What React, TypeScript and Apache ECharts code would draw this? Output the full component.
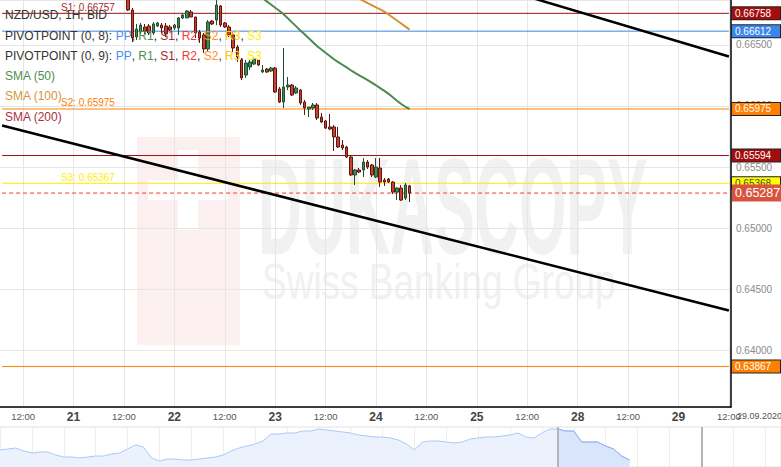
import { useEffect, useRef } from 'react';
import * as echarts from 'echarts';

// ---------- DATA ----------
const SYMBOL_TITLE = 'NZD/USD, 1H, BID';
const SLOT_COUNT = 174; // hourly slots, weekend skipped
const CURSOR_DATE = '29.09.2020';

// hourly candles starting at 2020-09-21 13:00
const CANDLE_START = '2020-09-21 13:00';
const candleOpen = [
  0.669, 0.66785, 0.66564, 0.66605, 0.66646, 0.66654, 0.66597, 0.66654, 0.66662, 0.66654,
  0.66646, 0.66638, 0.66638, 0.6672, 0.6672, 0.66769, 0.66728, 0.66605, 0.66581, 0.66466,
  0.66695, 0.66703, 0.66818, 0.66679, 0.66646, 0.66581, 0.66482, 0.66376, 0.66253, 0.66319,
  0.66343, 0.66376, 0.66278, 0.66302, 0.66286, 0.6631, 0.66139, 0.66032, 0.66155, 0.66171,
  0.66106, 0.6613, 0.66032, 0.65975, 0.65983, 0.66008, 0.65909, 0.65877, 0.65828, 0.65828,
  0.65746, 0.6568, 0.65664, 0.65582, 0.65435, 0.65476, 0.65476, 0.65541, 0.65517, 0.65418,
  0.65492, 0.65394, 0.65402, 0.65377, 0.65295, 0.65328, 0.65246, 0.65345,
];
const candleClose = [
  0.66785, 0.66556, 0.6663, 0.66662, 0.66613, 0.66597, 0.66671, 0.66679, 0.66638, 0.66589,
  0.66621, 0.66662, 0.6672, 0.66744, 0.66777, 0.66728, 0.66597, 0.66556, 0.66466, 0.66687,
  0.66671, 0.66826, 0.66662, 0.66646, 0.66581, 0.66474, 0.664, 0.66229, 0.66351, 0.6636,
  0.66384, 0.66335, 0.66294, 0.66278, 0.6631, 0.66114, 0.66032, 0.66155, 0.66171, 0.66089,
  0.66147, 0.66024, 0.65983, 0.65991, 0.66008, 0.65901, 0.65868, 0.65819, 0.65811, 0.65746,
  0.65664, 0.65656, 0.65582, 0.65435, 0.65476, 0.65459, 0.65541, 0.655, 0.65435, 0.655,
  0.65377, 0.65377, 0.65377, 0.65295, 0.65328, 0.6523, 0.65353, 0.65287,
];
const candleLow = [
  0.66777, 0.66523, 0.6654, 0.66589, 0.66589, 0.66581, 0.66581, 0.66646, 0.66597, 0.66564,
  0.66613, 0.66621, 0.66581, 0.66711, 0.6672, 0.66728, 0.66556, 0.66515, 0.66433, 0.66441,
  0.66662, 0.66662, 0.66646, 0.66638, 0.66564, 0.66441, 0.6636, 0.66212, 0.66229, 0.66294,
  0.66335, 0.66327, 0.6627, 0.6627, 0.66278, 0.66106, 0.66024, 0.65983, 0.6613, 0.66081,
  0.66098, 0.66008, 0.65926, 0.65909, 0.65967, 0.65885, 0.6586, 0.65811, 0.65803, 0.65631,
  0.65656, 0.65639, 0.65574, 0.65427, 0.65353, 0.65451, 0.65418, 0.65484, 0.65418, 0.6541,
  0.65336, 0.65345, 0.65369, 0.65279, 0.6523, 0.65222, 0.6523, 0.65214,
];
const candleHigh = [
  0.66932, 0.66802, 0.66671, 0.66679, 0.66671, 0.66671, 0.66687, 0.66687, 0.66679, 0.66679,
  0.66662, 0.66671, 0.66728, 0.66752, 0.66785, 0.66785, 0.66728, 0.66621, 0.66597, 0.66703,
  0.66703, 0.66892, 0.66826, 0.66687, 0.66662, 0.66605, 0.66499, 0.66392, 0.66376, 0.66376,
  0.66392, 0.66384, 0.66335, 0.6631, 0.66319, 0.66319, 0.66155, 0.66474, 0.66237, 0.6618,
  0.66163, 0.66139, 0.66049, 0.65991, 0.66024, 0.66024, 0.65942, 0.65885, 0.65934, 0.65844,
  0.65828, 0.65721, 0.65672, 0.65598, 0.65484, 0.65492, 0.65574, 0.65557, 0.65525, 0.65574,
  0.65574, 0.6541, 0.6541, 0.65385, 0.65336, 0.65353, 0.65369, 0.65353,
];

// SMA(50) from 2020-09-22 20:00, SMA(100) from 2020-09-23 19:00
const SMA50_START = '2020-09-22 20:00';
const sma50 = [
  0.66908, 0.66882, 0.66856, 0.6683, 0.66804, 0.66779, 0.66751, 0.66718, 0.66684, 0.66651,
  0.66618, 0.66586, 0.66554, 0.66522, 0.66489, 0.66462, 0.66435, 0.66409, 0.66382, 0.66359,
  0.66337, 0.66315, 0.66292, 0.6627, 0.66251, 0.66232, 0.66212, 0.66191, 0.66169, 0.66146,
  0.66123, 0.66099, 0.66071, 0.66043, 0.66016, 0.65993, 0.65975,
];
const SMA100_START = '2020-09-23 19:00';
const sma100 = [
  0.66896, 0.66878, 0.6686, 0.66842, 0.66825, 0.66807, 0.6679, 0.66772, 0.66748, 0.66724,
  0.66699, 0.66675, 0.66649, 0.66625,
];

// trend channel lines: [time, price] pairs
const trendLower = [['2020-09-18 07:00', 0.6584], ['2020-09-29 12:00', 0.64326]];
const trendUpper = [['2020-09-25 11:00', 0.66906], ['2020-09-29 12:00', 0.66404]];

// horizontal pivot levels
const levelValues = [0.66758, 0.66612, 0.65975, 0.65594, 0.65367, 0.63867];
const levelTags = ['0.66758', '0.66612', '0.65975', '0.65594', '0.65368', '0.63867'];
const levelNames = ['S1: 0.66757', '', 'S2: 0.65975', '', 'S3: 0.65367', ''];

// navigator overview
const NAV_SLOTS = 99;
const navValues = [
  0.66275, 0.6635, 0.66425, 0.662, 0.6605, 0.66125, 0.66125, 0.659, 0.6575, 0.6575,
  0.65675, 0.6575, 0.65825, 0.65825, 0.65975, 0.6605, 0.6635, 0.6665, 0.665, 0.65675,
  0.6545, 0.656, 0.656, 0.65525, 0.65525, 0.656, 0.65675, 0.6575, 0.659, 0.662,
  0.66425, 0.66575, 0.66725, 0.6695, 0.67475, 0.67475, 0.6755, 0.6755, 0.677, 0.677,
  0.6785, 0.67775, 0.677, 0.67625, 0.6755, 0.674, 0.67325, 0.6725, 0.6725, 0.67175,
  0.67025, 0.66725, 0.66275, 0.66875, 0.6695, 0.6695, 0.66875, 0.668, 0.66875, 0.671,
  0.67175, 0.6725, 0.6725, 0.67325, 0.674, 0.6755, 0.6725, 0.67175, 0.6755, 0.6785,
  0.6785, 0.677, 0.677, 0.66875, 0.66875, 0.66875, 0.66575, 0.6635, 0.65825, 0.65525,
];
const NAV_SELECT_FROM = 70;
const NAV_HANDLES = [70, 88];

// ---------- STYLES ----------
const FONT = 'Liberation Sans, Arial, sans-serif';
const levelStyles = [
  { line: '#9a1010', bg: '#a30d0d', fg: '#ffffff', left: '#a52a2a' },
  { line: '#3d85e0', bg: '#3b86ea', fg: '#ffffff', left: '' },
  { line: '#ff8000', bg: '#ff8000', fg: '#ffffff', left: '#ff8000' },
  { line: '#9a1010', bg: '#a30d0d', fg: '#ffffff', left: '' },
  { line: '#ffe800', bg: '#ffff00', fg: '#444444', left: '#ffee00' },
  { line: '#ff8000', bg: '#ff8000', fg: '#ffffff', left: '' },
];

function pad(n: number) {
  return n < 10 ? '0' + n : '' + n;
}
function buildSlots(): string[] {
  const out: string[] = [];
  let t = Date.UTC(2020, 8, 18, 7);
  while (out.length < SLOT_COUNT) {
    const d = new Date(t);
    const wd = d.getUTCDay();
    if (wd !== 0 && wd !== 6) {
      out.push(
        `${d.getUTCFullYear()}-${pad(d.getUTCMonth() + 1)}-${pad(d.getUTCDate())} ${pad(d.getUTCHours())}:00`
      );
    }
    t += 3600000;
  }
  return out;
}

export default function App() {
  const ref = useRef<HTMLDivElement>(null);
  useEffect(() => {
    if (!ref.current) return;
    const chart = echarts.init(ref.current, undefined, { renderer: 'svg' });
    const slots = buildSlots();
    const first = slots[0];
    const last = slots[slots.length - 1];
    const cStart = slots.indexOf(CANDLE_START);
    const candleData = candleOpen.map((o, i) => [
      slots[cStart + i],
      o,
      candleClose[i],
      candleLow[i],
      candleHigh[i],
    ]);
    const s50 = slots.indexOf(SMA50_START);
    const sma50Data = sma50.map((v, i) => [slots[s50 + i], v]);
    const s100 = slots.indexOf(SMA100_START);
    const sma100Data = sma100.map((v, i) => [slots[s100 + i], v]);
    const lastClose = candleClose[candleClose.length - 1];
    const navCats = Array.from({ length: NAV_SLOTS }, (_, i) => String(i));
    const navSel = navValues.map((v, i) => (i >= NAV_SELECT_FROM ? v : '-'));

    const isMajor = (idx: number) => {
      const h = slots[idx].slice(11, 13);
      return h === '00' || h === '12';
    };

    // horizontal level lines as plain line series
    const levelSeries: any[] = levelValues.map((v, i) => ({
      type: 'line',
      data: [
        [first, v],
        [last, v],
      ],
      showSymbol: false,
      silent: true,
      z: 1,
      lineStyle: { color: levelStyles[i].line, width: 1, type: 'solid' },
    }));
    levelSeries.push({
      type: 'line',
      data: [
        [first, lastClose],
        [last, lastClose],
      ],
      showSymbol: false,
      silent: true,
      z: 1,
      lineStyle: { color: '#f03c28', width: 1, type: [4, 3] },
    });

    // value tags on the price scale
    const tagData: any[] = levelValues.map((v, i) => ({
      yAxis: v,
      label: {
        show: true,
        position: 'end',
        distance: 1,
        formatter: levelTags[i],
        color: levelStyles[i].fg,
        backgroundColor: levelStyles[i].bg,
        borderColor: '#222',
        borderWidth: 1,
        padding: [1, 3, 1, 3],
        width: 42,
        fontSize: 10,
        fontFamily: FONT,
        opacity: 1,
      },
    }));
    tagData.push({
      yAxis: lastClose,
      label: {
        show: true,
        position: 'end',
        distance: 1,
        formatter: lastClose.toFixed(5),
        color: '#ffffff',
        backgroundColor: '#d9533f',
        padding: [2, 3, 2, 3],
        width: 44,
        fontSize: 12.5,
        fontFamily: FONT,
        opacity: 1,
      },
    });

    const option: any = {
      animation: false,
      backgroundColor: '#ffffff',
      grid: [
        { left: 0, right: 50, top: 0, bottom: 60, outerBoundsMode: 'none' },
        {
          left: 0,
          right: 0,
          top: 427,
          height: 40,
          show: true,
          borderColor: '#e2e2e2',
          borderWidth: 1,
          outerBoundsMode: 'none',
        },
      ],
      xAxis: [
        {
          type: 'category',
          gridIndex: 0,
          data: slots,
          boundaryGap: true,
          axisLine: { lineStyle: { color: '#000', width: 1.5 } },
          axisTick: { show: false },
          axisLabel: {
            interval: (idx: number) => isMajor(idx),
            margin: 4,
            formatter: (val: string) => {
              const h = val.slice(11, 13);
              if (h === '00') return '{d|' + Number(val.slice(8, 10)) + '}';
              return '{t|' + val.slice(11, 16) + '}';
            },
            rich: {
              d: { fontSize: 12, fontWeight: 'bold', color: '#444', fontFamily: FONT },
              t: { fontSize: 9.5, color: '#555', fontFamily: FONT },
            },
          },
          splitLine: {
            show: true,
            interval: (idx: number) => isMajor(idx),
            alignWithLabel: true,
            lineStyle: { color: '#e6e6e6', width: 1 },
          },
        },
        {
          type: 'category',
          gridIndex: 1,
          data: navCats,
          boundaryGap: false,
          axisLine: { show: false },
          axisTick: { show: false },
          axisLabel: { show: false },
          splitLine: { show: true, interval: 3, lineStyle: { color: '#eeeeee' } },
        },
      ],
      yAxis: [
        {
          type: 'value',
          gridIndex: 0,
          position: 'right',
          min: 0.63536,
          max: 0.66867,
          splitNumber: 5,
          axisLine: { show: true, lineStyle: { color: '#000', width: 1.5 } },
          axisTick: { show: false },
          axisLabel: {
            color: '#8a8a8a',
            fontSize: 10,
            fontFamily: FONT,
            margin: 5,
            showMinLabel: false,
            showMaxLabel: false,
            formatter: (v: number) => v.toFixed(5),
          },
          splitLine: { show: true, lineStyle: { color: '#e6e6e6', width: 1 } },
        },
        {
          type: 'value',
          gridIndex: 1,
          min: 0.65,
          max: 0.68,
          show: false,
          splitLine: { show: false },
        },
      ],
      series: [
        ...levelSeries,
        {
          type: 'candlestick',
          xAxisIndex: 0,
          yAxisIndex: 0,
          data: candleData,
          encode: { x: 0, y: [1, 2, 3, 4] },
          barWidth: 3,
          clip: true,
          z: 3,
          itemStyle: {
            color: '#3f8b55',
            color0: '#c9412f',
            borderColor: '#1f4f2c',
            borderColor0: '#5e1610',
            borderWidth: 1,
          },
          markLine: {
            silent: true,
            symbol: ['none', 'none'],
            precision: 5,
            animation: false,
            lineStyle: { color: 'rgba(255,255,255,0)', width: 1, type: 'solid' },
            data: tagData,
          },
        },
        {
          type: 'line',
          data: sma50Data,
          showSymbol: false,
          clip: true,
          z: 2,
          lineStyle: { color: '#4a8a4f', width: 2 },
        },
        {
          type: 'line',
          data: sma100Data,
          showSymbol: false,
          clip: true,
          z: 2,
          lineStyle: { color: '#d49135', width: 2 },
        },
        {
          type: 'line',
          data: trendLower,
          showSymbol: false,
          clip: true,
          z: 2,
          lineStyle: { color: '#000', width: 2.5 },
        },
        {
          type: 'line',
          data: trendUpper,
          showSymbol: false,
          clip: true,
          z: 2,
          lineStyle: { color: '#000', width: 2.5 },
        },
        {
          type: 'line',
          xAxisIndex: 1,
          yAxisIndex: 1,
          data: navValues,
          showSymbol: false,
          lineStyle: { color: '#abc8f5', width: 1 },
          areaStyle: { color: '#ebf2fe', opacity: 1 },
          markLine: {
            silent: true,
            symbol: ['none', 'none'],
            label: { show: false },
            lineStyle: { color: '#b5b5b5', width: 2, type: 'solid' },
            data: NAV_HANDLES.map((h) => ({ xAxis: String(h) })),
          },
        },
        {
          type: 'line',
          xAxisIndex: 1,
          yAxisIndex: 1,
          data: navSel,
          showSymbol: false,
          lineStyle: { color: '#8fb4f0', width: 1 },
          areaStyle: { color: '#d8e5fb', opacity: 1 },
        },
      ],
    };
    chart.setOption(option);

    const ys = levelValues.map((v) => chart.convertToPixel({ yAxisIndex: 0 }, v) as number);
    const leftLabels = levelNames
      .map((t, i) =>
        t
          ? {
              type: 'text',
              z: 50,
              silent: true,
              x: 61,
              y: ys[i] - 1,
              style: {
                text: t,
                fill: levelStyles[i].left,
                font: `10px ${FONT}`,
                verticalAlign: 'bottom',
              },
            }
          : null
      )
      .filter(Boolean);

    const pivotRich = (cols: Record<string, string>) => {
      const r: any = {};
      Object.keys(cols).forEach((k) => {
        r[k] = { fill: cols[k], fontSize: 12, fontFamily: FONT };
      });
      return r;
    };
    const pivRich = pivotRich({
      b: '#333333',
      pp: '#4a8ff0',
      r1: '#4a9050',
      s1: '#a82828',
      r2: '#f03c3c',
      s2: '#ff9020',
      r3: '#ffcc00',
      s3: '#fff000',
    });
    const pivText = (n: number) =>
      `{b|PIVOTPOINT (0, ${n}): }{pp|PP}{b|, }{r1|R1}{b|, }{s1|S1}{b|, }{r2|R2}{b|, }{s2|S2}{b|, }{r3|R3}{b|, }{s3|S3}`;

    const legend: any[] = [
      { text: SYMBOL_TITLE, y: 15, fill: '#333333' },
      { text: pivText(8), y: 36, rich: true },
      { text: pivText(9), y: 56, rich: true },
      { text: 'SMA (50)', y: 76, fill: '#4e8f4e' },
      { text: 'SMA (100)', y: 96, fill: '#d4963c' },
      { text: 'SMA (200)', y: 117, fill: '#a8333f' },
    ].map((l) => ({
      type: 'text',
      z: 60,
      silent: true,
      x: 5,
      y: l.y,
      style: {
        text: l.text,
        fill: l.fill || '#333',
        font: `12px ${FONT}`,
        verticalAlign: 'middle',
        rich: l.rich ? pivRich : undefined,
      },
    }));

    const watermark: any[] = [
      {
        type: 'rect',
        z: -1,
        silent: true,
        shape: { x: 137, y: 137, width: 103, height: 208 },
        style: { fill: '#fcefef' },
      },
      {
        type: 'rect',
        z: -1,
        silent: true,
        shape: { x: 178, y: 150, width: 20, height: 80 },
        style: { fill: '#ffffff' },
      },
      {
        type: 'rect',
        z: -1,
        silent: true,
        shape: { x: 148, y: 180, width: 80, height: 20 },
        style: { fill: '#ffffff' },
      },
      {
        type: 'text',
        z: -1,
        silent: true,
        x: 258,
        y: 137,
        scaleX: 0.442,
        style: {
          text: 'DUKASCOPY',
          fill: '#f1f1f1',
          font: `bold 138px ${FONT}`,
          verticalAlign: 'top',
        },
      },
      {
        type: 'text',
        z: -1,
        silent: true,
        x: 262,
        y: 256,
        scaleX: 0.74,
        style: {
          text: 'Swiss Banking Group',
          fill: '#f1f1f1',
          font: `50px ${FONT}`,
          verticalAlign: 'top',
        },
      },
    ];

    const extra: any[] = [
      {
        type: 'text',
        z: 60,
        silent: true,
        x: 737,
        y: 416,
        style: { text: CURSOR_DATE, fill: '#555', font: `9px ${FONT}`, verticalAlign: 'middle' },
      },
    ];

    chart.setOption({ graphic: { elements: [...watermark, ...leftLabels, ...legend, ...extra] } });

    return () => chart.dispose();
  }, []);
  return (
    <div
      ref={ref}
      style={{ position: 'fixed', left: 0, top: 0, width: 781, height: 467, background: '#fff' }}
    />
  );
}
